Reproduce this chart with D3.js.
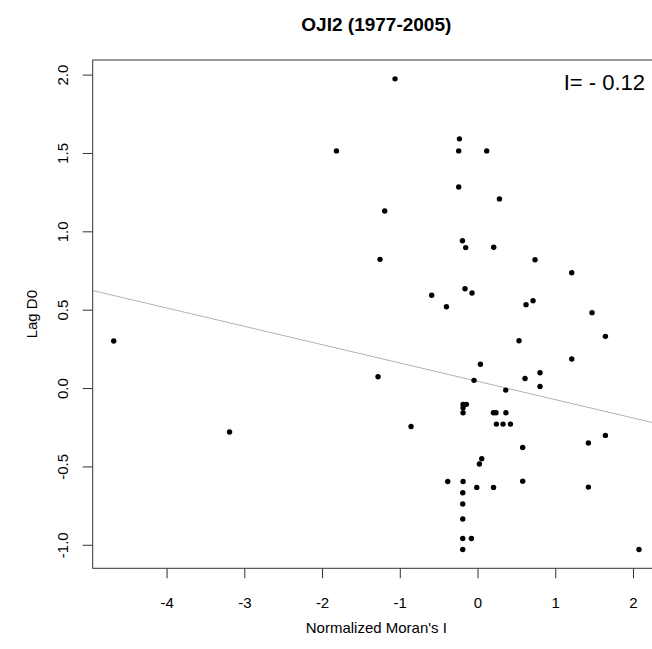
<!DOCTYPE html>
<html>
<head>
<meta charset="utf-8">
<script src="https://cdn.jsdelivr.net/npm/d3@7"></script>
<style>
  html, body { margin: 0; padding: 0; background: #fff; }
  svg { display: block; }
  text { font-family: "Liberation Sans", Arial, Helvetica, sans-serif; fill: #000; }
</style>
</head>
<body>
<svg id="chart" width="652" height="649"></svg>
<script>
// ---- data ----
const moranI = [
  -4.68, -3.19, -1.815, -1.061, -1.194, -1.254, -1.28, -0.855, -0.589, -0.40,
  -0.383, -0.233, -0.242, -0.242, 0.118, 0.282, -0.194, -0.152, 0.208, -0.161,
  -0.071, 0.74, 1.212, 0.714, 0.624, 1.473, 1.645, 0.534, 1.212, 0.037,
  -0.045, 0.611, 0.804, 0.804, 0.363, -0.186, -0.143, -0.186, -0.186, 0.204,
  0.238, 0.365, 0.243, 0.328, 0.423, 1.426, 1.645, 0.581, 0.054, 0.024,
  -0.186, 0.581, -0.01, 0.206, 1.426, -0.19, -0.19, -0.19, -0.19, -0.079,
  -0.19, 2.077
];
const lagD0 = [
  0.30, -0.28, 1.513, 1.973, 1.130, 0.821, 0.072, -0.245, 0.592, 0.519,
  -0.596, 1.590, 1.513, 1.283, 1.513, 1.207, 0.940, 0.896, 0.898, 0.634,
  0.606, 0.819, 0.736, 0.557, 0.532, 0.481, 0.330, 0.302, 0.185, 0.152,
  0.049, 0.061, 0.098, 0.010, -0.013, -0.104, -0.104, -0.126, -0.158, -0.158,
  -0.158, -0.158, -0.230, -0.230, -0.230, -0.351, -0.302, -0.379, -0.451, -0.485,
  -0.596, -0.594, -0.634, -0.634, -0.632, -0.668, -0.740, -0.836, -0.960, -0.960,
  -1.030, -1.030
];
const xTicks = [-4, -3, -2, -1, 0, 1, 2];
const yTicks = [-1.0, -0.5, 0.0, 0.5, 1.0, 1.5, 2.0];
const fitIntercept = 0.043;
const fitSlope = -0.117;
const titleText = "OJI2 (1977-2005)";
const xLabel = "Normalized Moran's I";
const yLabel = "Lag D0";
const annotation = "I= - 0.12";

// ---- layout ----
const svg = d3.select("#chart");
const plot = { left: 92.7, right: 660, top: 60, bottom: 568.3 };

const xExt = d3.extent(moranI), yExt = d3.extent(lagD0);
const xPad = (xExt[1] - xExt[0]) * 0.04, yPad = (yExt[1] - yExt[0]) * 0.04;
const x = d3.scaleLinear().domain([xExt[0] - xPad, xExt[1] + xPad]).range([plot.left, plot.right]);
const y = d3.scaleLinear().domain([yExt[0] - yPad, yExt[1] + yPad]).range([plot.bottom, plot.top]);

// regression line (clipped to plot)
svg.append("clipPath").attr("id", "clip").append("rect")
  .attr("x", plot.left).attr("y", plot.top)
  .attr("width", plot.right - plot.left).attr("height", plot.bottom - plot.top);
const xd = x.domain();
svg.append("line").attr("clip-path", "url(#clip)")
  .attr("x1", x(xd[0])).attr("y1", y(fitIntercept + fitSlope * xd[0]))
  .attr("x2", x(xd[1])).attr("y2", y(fitIntercept + fitSlope * xd[1]))
  .attr("stroke", "#b3b3b3").attr("stroke-width", 1);

// points
svg.append("g").selectAll("circle").data(moranI).join("circle")
  .attr("cx", (d) => x(d))
  .attr("cy", (d, i) => y(lagD0[i]))
  .attr("r", 2.7)
  .attr("fill", "#000");

// axes (R-style hyphen minus)
const xAxis = d3.axisBottom(x).tickValues(xTicks).tickSize(10).tickPadding(19)
  .tickFormat((d) => String(d));
const gx = svg.append("g").attr("transform", `translate(0,${plot.bottom})`).call(xAxis);
gx.select(".domain").remove();
gx.selectAll("line").attr("stroke", "#333");
gx.selectAll("text").attr("font-size", 15).attr("font-family", "Liberation Sans, Arial, sans-serif");

const yAxis = d3.axisLeft(y).tickValues(yTicks).tickSize(10).tickFormat((d) => d.toFixed(1));
const gy = svg.append("g").attr("transform", `translate(${plot.left},0)`).call(yAxis);
gy.select(".domain").remove();
gy.selectAll("line").attr("stroke", "#333");
gy.selectAll("text")
  .attr("font-size", 15).attr("font-family", "Liberation Sans, Arial, sans-serif")
  .attr("x", null).attr("dy", null)
  .attr("text-anchor", "middle")
  .attr("transform", "translate(-25,0) rotate(-90)");

// box
svg.append("rect")
  .attr("x", plot.left).attr("y", plot.top)
  .attr("width", plot.right - plot.left).attr("height", plot.bottom - plot.top)
  .attr("fill", "none").attr("stroke", "#333").attr("stroke-width", 1);

// titles
svg.append("text").attr("x", (plot.left + plot.right) / 2).attr("y", 31)
  .attr("text-anchor", "middle").attr("font-weight", "bold").attr("font-size", 19)
  .text(titleText);
svg.append("text").attr("x", (plot.left + plot.right) / 2).attr("y", 633)
  .attr("text-anchor", "middle").attr("font-size", 15).text(xLabel);
svg.append("text").attr("transform", `translate(37,${(plot.top + plot.bottom) / 2}) rotate(-90)`)
  .attr("text-anchor", "middle").attr("font-size", 15).text(yLabel);
svg.append("text").attr("x", 645).attr("y", 90)
  .attr("text-anchor", "end").attr("font-size", 22)
  .text(annotation);
</script>
</body>
</html>
